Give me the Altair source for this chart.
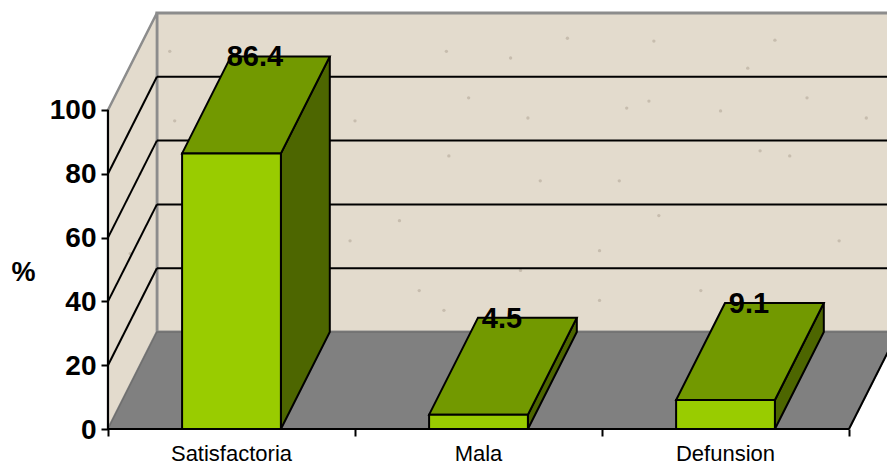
import altair as alt
import pandas as pd

categories = ["Satisfactoria", "Mala", "Defunsion"]
values = [86.4, 4.5, 9.1]
y_ticks = [0, 20, 40, 60, 80, 100]
grid_values = [20, 40, 60, 80]
x_ticks = [0, 1, 2, 3]

# Receding offset of the fake 3D box, in axis units
DEPTH_X = 0.198
DEPTH_Y = 30.4
BAR_WIDTH = 0.4
WALL_TOP = 100
FLOOR_RIGHT = 3
X_DOMAIN = [-0.4372, 3.1538]
Y_DOMAIN = [-11.91, 134.48]

# Flecks of the stone texture on the walls (category units, percent)
speck_x = [1.86, 2.21, 2.70, 2.59, 1.46, 2.83, 1.70, 3.07, 2.10, 2.19, 1.37, 1.63,
           1.38, 2.23, 1.00, 1.18, 1.67, 2.64, 2.76, 1.99, 2.40, 1.36, 0.25, 0.27,
           1.99, 2.96, 0.98, 1.26, 1.75, 2.07, 2.48, 0.09, 0.13]
speck_y = [122.5, 121.6, 121.9, 113.1, 103.8, 103.8, 97.5, 97.5, 100.6, 102.8, 118.4, 116.3,
           85.6, 66.9, 96.6, 65.3, 49.7, 87.2, 85.6, 55.9, 43.4, 37.2, 118.4, 96.6,
           40.3, 59.0, 59.0, 43.4, 77.8, 77.8, 99.7, 55.0, 80.0]

WALL = "#e3dbcd"
WALL_EDGE = "#8c8c8c"
FLOOR = "#808080"
FRONT = "#99cc00"
TOP = "#729900"
SIDE = "#4d6600"
INK = "#000000"
FONT = "Liberation Sans"

x_scale = alt.Scale(domain=X_DOMAIN, nice=False, zero=False)
y_scale = alt.Scale(domain=Y_DOMAIN, nice=False, zero=False)

# Real axes carry the ticks and numbers, moved in to the box corner
X = alt.X("x:Q", scale=x_scale, title=None, axis=alt.Axis(
    values=x_ticks, labels=False, domain=False, grid=False, ticks=True,
    tickColor=INK, tickWidth=2, tickSize=7, offset=-38, zindex=2,
))
Y = alt.Y("y:Q", scale=y_scale, title="%", axis=alt.Axis(
    values=y_ticks, domain=False, grid=False, tickColor=INK, tickWidth=2, tickSize=7,
    labelFont=FONT, labelFontSize=28, labelFontWeight="bold", labelColor=INK,
    labelPadding=5, labelOffset=1, offset=-108, zindex=2,
    titleFont=FONT, titleFontSize=27, titleFontWeight="bold", titleColor=INK,
    titleAngle=0, titleAlign="center", titleBaseline="middle", titleX=-85, titleY=272,
))


def slanted_vertical(rows, **style):
    """Parallelogram with vertical end edges: side wall and bar sides."""
    return alt.Chart(pd.DataFrame(rows)).mark_area(clip=True, **style).encode(
        x=X, y=Y, y2="y2:Q", detail="id:N"
    )


def slanted_horizontal(rows, **style):
    """Parallelogram with horizontal end edges: floor and bar tops."""
    return alt.Chart(pd.DataFrame(rows)).mark_area(orient="horizontal", clip=True, **style).encode(
        y=Y, x=X, x2="x2:Q", detail="id:N"
    )


# Back wall, running off the right edge of the page
back_wall = alt.Chart(pd.DataFrame([{
    "x": DEPTH_X, "x2": X_DOMAIN[1] + 1, "y": DEPTH_Y, "y2": WALL_TOP + DEPTH_Y
}])).mark_rect(fill=WALL, stroke=WALL_EDGE, strokeWidth=3, clip=True).encode(
    x=X, x2="x2:Q", y=Y, y2="y2:Q"
)

side_wall = slanted_vertical(
    [
        {"id": "w", "x": 0, "y": 0, "y2": WALL_TOP},
        {"id": "w", "x": DEPTH_X, "y": DEPTH_Y, "y2": WALL_TOP + DEPTH_Y},
    ],
    fill=WALL, stroke=WALL_EDGE, strokeWidth=2.5,
)

floor = slanted_horizontal(
    [
        {"id": "f", "y": 0, "x": 0, "x2": FLOOR_RIGHT},
        {"id": "f", "y": DEPTH_Y, "x": DEPTH_X, "x2": FLOOR_RIGHT + DEPTH_X},
    ],
    fill=FLOOR, stroke="#6f6f6f", strokeWidth=1.5,
)

floor_edge = alt.Chart(pd.DataFrame([
    {"x": FLOOR_RIGHT, "y": 0},
    {"x": FLOOR_RIGHT + DEPTH_X, "y": DEPTH_Y},
])).mark_line(color=INK, strokeWidth=2, clip=True).encode(x=X, y=Y)

specks = alt.Chart(pd.DataFrame({"x": speck_x, "y": speck_y})).mark_point(
    filled=True, color="#b4a999", opacity=0.6, size=11
).encode(x=X, y=Y)

# Gridlines across the back wall and down the side wall
back_grid = alt.Chart(pd.DataFrame({
    "x": [DEPTH_X] * len(grid_values),
    "x2": [X_DOMAIN[1] + 1] * len(grid_values),
    "y": [v + DEPTH_Y for v in grid_values],
})).mark_rule(color=INK, strokeWidth=2, clip=True).encode(x=X, x2="x2:Q", y=Y)

side_grid = alt.Chart(pd.DataFrame(
    [{"id": v, "x": 0, "y": v} for v in grid_values]
    + [{"id": v, "x": DEPTH_X, "y": v + DEPTH_Y} for v in grid_values]
)).mark_line(color=INK, strokeWidth=2).encode(x=X, y=Y, detail="id:N")

# Bars: one front, side and top face per category
centers = [i + 0.5 for i in range(len(categories))]
front_rows, side_rows, top_rows = [], [], []
for cat, c, v in zip(categories, centers, values):
    left, right = c - BAR_WIDTH / 2, c + BAR_WIDTH / 2
    front_rows.append({"x": left, "x2": right, "y": 0, "y2": v})
    side_rows += [
        {"id": cat, "x": right, "y": 0, "y2": v},
        {"id": cat, "x": right + DEPTH_X, "y": DEPTH_Y, "y2": v + DEPTH_Y},
    ]
    top_rows += [
        {"id": cat, "y": v, "x": left, "x2": right},
        {"id": cat, "y": v + DEPTH_Y, "x": left + DEPTH_X, "x2": right + DEPTH_X},
    ]

bar_front = alt.Chart(pd.DataFrame(front_rows)).mark_rect(
    fill=FRONT, stroke=INK, strokeWidth=2
).encode(x=X, x2="x2:Q", y=Y, y2="y2:Q")
bar_side = slanted_vertical(side_rows, fill=SIDE, stroke=INK, strokeWidth=2)
bar_top = slanted_horizontal(top_rows, fill=TOP, stroke=INK, strokeWidth=2)

# Axis lines stop at the box corners
y_line = alt.Chart(pd.DataFrame({"x": [0], "y": [0], "y2": [WALL_TOP]})).mark_rule(
    color=INK, strokeWidth=2
).encode(x=X, y=Y, y2="y2:Q")
x_line = alt.Chart(pd.DataFrame({"x": [0], "x2": [FLOOR_RIGHT], "y": [0]})).mark_rule(
    color=INK, strokeWidth=2
).encode(x=X, x2="x2:Q", y=Y)

value_labels = alt.Chart(pd.DataFrame({
    "x": [c + DEPTH_X / 2 for c in centers],
    "y": [v + DEPTH_Y for v in values],
    "label": [str(v) for v in values],
})).mark_text(
    font=FONT, fontSize=29, fontWeight="bold", color=INK, baseline="middle", align="center",
    dx=-1, dy=1,
).encode(x=X, y=Y, text="label:N")

category_labels = alt.Chart(pd.DataFrame({
    "x": centers, "y": [-7.8] * len(categories), "label": categories,
})).mark_text(
    font=FONT, fontSize=22, color="#000000", baseline="middle", align="center"
).encode(x=X, y=Y, text="label:N")

chart = alt.layer(
    back_wall, side_wall, specks, back_grid, side_grid, floor, floor_edge,
    bar_side, bar_top, bar_front, y_line, x_line, value_labels, category_labels,
).properties(
    width=887, height=467, padding=0, autosize=alt.AutoSizeParams(type="none"),
    background="#ffffff",
).configure_view(stroke=None)

chart.save("out.html", embed_options={"renderer": "svg", "actions": False})
